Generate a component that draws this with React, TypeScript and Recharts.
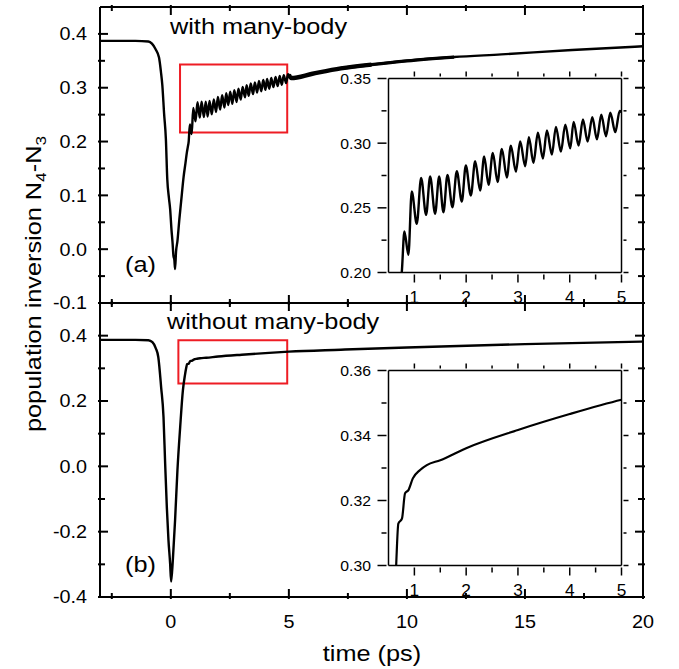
import React from "react";
import { LineChart, Line, XAxis, YAxis, ReferenceArea } from "recharts";

const FONT = '"Liberation Sans", Arial, Helvetica, sans-serif';

// ---- with many-body: pump dip, ringing, slow recovery ----
const dipWith = [
  { t: -3, v: 0.387 }, { t: -1.5, v: 0.387 }, { t: -0.95, v: 0.386 }, { t: -0.8, v: 0.382 },
  { t: -0.65, v: 0.372 }, { t: -0.5, v: 0.356 }, { t: -0.42, v: 0.33 }, { t: -0.36, v: 0.305 },
  { t: -0.285, v: 0.252 }, { t: -0.21, v: 0.205 }, { t: -0.15, v: 0.13 }, { t: -0.08, v: 0.095 },
  { t: -0.03, v: 0.075 }, { t: 0.03, v: 0.035 }, { t: 0.07, v: 0.014 }, { t: 0.11, v: -0.012 },
  { t: 0.15, v: -0.02 }, { t: 0.18, v: -0.037 }, { t: 0.22, v: -0.005 }, { t: 0.28, v: 0.015 },
  { t: 0.36, v: 0.055 }, { t: 0.44, v: 0.09 }, { t: 0.54, v: 0.134 }, { t: 0.62, v: 0.16 },
  { t: 0.68, v: 0.18 }, { t: 0.72, v: 0.19 }, { t: 0.756, v: 0.2 },
];

const ringWith = [
  { t: 0.807, v: 0.2317 }, { t: 0.884, v: 0.2137 }, { t: 0.949, v: 0.2626 }, { t: 1.046, v: 0.2376 },
  { t: 1.13, v: 0.2732 }, { t: 1.226, v: 0.2446 }, { t: 1.304, v: 0.2742 }, { t: 1.4, v: 0.2454 },
  { t: 1.478, v: 0.2742 }, { t: 1.561, v: 0.2466 }, { t: 1.639, v: 0.2755 }, { t: 1.735, v: 0.2505 },
  { t: 1.819, v: 0.2783 }, { t: 1.916, v: 0.2549 }, { t: 1.993, v: 0.2827 }, { t: 2.09, v: 0.2595 },
  { t: 2.174, v: 0.286 }, { t: 2.27, v: 0.2634 }, { t: 2.348, v: 0.2897 }, { t: 2.432, v: 0.2678 },
  { t: 2.515, v: 0.2925 }, { t: 2.606, v: 0.27 }, { t: 2.689, v: 0.2956 }, { t: 2.786, v: 0.2735 },
  { t: 2.863, v: 0.298 }, { t: 2.96, v: 0.278 }, { t: 3.043, v: 0.3013 }, { t: 3.14, v: 0.2822 },
  { t: 3.211, v: 0.3046 }, { t: 3.3, v: 0.2848 }, { t: 3.385, v: 0.308 }, { t: 3.482, v: 0.2881 },
  { t: 3.559, v: 0.3098 }, { t: 3.656, v: 0.2912 }, { t: 3.733, v: 0.3126 }, { t: 3.83, v: 0.2935 },
  { t: 3.914, v: 0.3143 }, { t: 4.01, v: 0.296 }, { t: 4.075, v: 0.3164 }, { t: 4.172, v: 0.2982 },
  { t: 4.255, v: 0.3183 }, { t: 4.346, v: 0.3013 }, { t: 4.436, v: 0.32 }, { t: 4.526, v: 0.303 },
  { t: 4.61, v: 0.322 }, { t: 4.7, v: 0.3054 }, { t: 4.784, v: 0.3235 }, { t: 4.88, v: 0.3085 },
  { t: 4.965, v: 0.325 }, { t: 5.0, v: 0.324 },
];

const tailWith = [
  { t: 5.1, v: 0.318 }, { t: 6, v: 0.326 }, { t: 7.2, v: 0.336 }, { t: 8.5, v: 0.343 },
  { t: 10, v: 0.35 }, { t: 12, v: 0.357 }, { t: 14, v: 0.362 }, { t: 17, v: 0.37 }, { t: 20, v: 0.377 },
];

// ---- without many-body ----
const dipWithout = [
  { t: -3, v: 0.387 }, { t: -1.5, v: 0.387 }, { t: -0.95, v: 0.386 }, { t: -0.78, v: 0.38 },
  { t: -0.64, v: 0.362 }, { t: -0.53, v: 0.334 }, { t: -0.41, v: 0.242 }, { t: -0.31, v: 0.151 },
  { t: -0.24, v: 0.008 }, { t: -0.17, v: -0.124 }, { t: -0.1, v: -0.226 }, { t: -0.03, v: -0.297 },
  { t: 0.013, v: -0.353 }, { t: 0.085, v: -0.287 }, { t: 0.18, v: -0.165 }, { t: 0.28, v: -0.012 },
  { t: 0.396, v: 0.12 }, { t: 0.51, v: 0.232 }, { t: 0.6, v: 0.28 }, { t: 0.648, v: 0.3 },
];

const riseWithout = [
  { t: 0.69, v: 0.3129 }, { t: 0.76, v: 0.3144 }, { t: 0.82, v: 0.3222 }, { t: 0.885, v: 0.3232 },
  { t: 0.97, v: 0.3268 }, { t: 1.11, v: 0.3294 }, { t: 1.24, v: 0.3309 }, { t: 1.5, v: 0.3324 },
  { t: 2.0, v: 0.3361 }, { t: 3.0, v: 0.3417 }, { t: 4.0, v: 0.3466 }, { t: 5.0, v: 0.351 },
];

const tailWithout = [
  { t: 7.2, v: 0.357 }, { t: 10, v: 0.364 }, { t: 15, v: 0.374 }, { t: 20, v: 0.382 },
];

const withMB = [...dipWith, ...ringWith, ...tailWith];
// the unresolved fast ringing after 5 ps shows as a thicker trace
const withBandNear = [ringWith[ringWith.length - 1], ...tailWith.filter((d) => d.t <= 8.5)];
const withBandFar = tailWith.filter((d) => d.t >= 7.2 && d.t <= 12);
const withoutMB = [...dipWithout, ...riseWithout, ...tailWithout];

// zoom boxes (drawn on the main panels)
const boxWith = { x1: 0.39, x2: 4.93, y1: 0.217, y2: 0.343 };
const boxWithout = { x1: 0.32, x2: 4.93, y1: 0.2535, y2: 0.386 };

// ticks
const timeMajor = [0, 5, 10, 15, 20];
const timeMinor = [-2.5, 2.5, 7.5, 12.5, 17.5];
const topMajor = [-0.1, 0, 0.1, 0.2, 0.3, 0.4];
const topMinor = [-0.05, 0.05, 0.15, 0.25, 0.35];
const botMajor = [-0.4, -0.2, 0, 0.2, 0.4];
const botMinor = [-0.3, -0.1, 0.1, 0.3];
const zoomTimeMajor = [1, 2, 3, 4, 5];
const zoomTimeMinor = [1.5, 2.5, 3.5, 4.5];
const zoomTopMajor = [0.2, 0.25, 0.3, 0.35];
const zoomTopMinor = [0.225, 0.275, 0.325];
const zoomBotMajor = [0.3, 0.32, 0.34, 0.36];
const zoomBotMinor = [0.31, 0.33, 0.35];

type Side = "left" | "right" | "top" | "bottom";
type TickOpts = {
  major: number;
  minor: number;
  inward: boolean;
  fmt?: (v: number) => string;
  size?: number;
  gap?: number;
  sx?: number;
  lw?: number;
};

const tickMaker = (side: Side, majors: number[], o: TickOpts) => (p: any) => {
  const v = p.payload.value;
  const isMajor = majors.some((m) => Math.abs(m - v) < 1e-9);
  const len = isMajor ? o.major : o.minor;
  const inSign = side === "left" || side === "top" ? 1 : -1;
  const s = o.inward ? inSign : -inSign;
  const horiz = side === "left" || side === "right";
  const x2 = horiz ? p.x + s * len : p.x;
  const y2 = horiz ? p.y : p.y + s * len;
  let label = null;
  if (isMajor && o.fmt) {
    const size = o.size || 18;
    const sx = o.sx || 1;
    if (side === "left") {
      label = (
        <text transform={`translate(${p.x - (o.gap || 10)},${p.y + size * 0.358}) scale(${sx},1)`}
          textAnchor="end" fontSize={size} fontFamily={FONT} fill="#000" stroke="none">{o.fmt(v)}</text>
      );
    } else if (side === "bottom") {
      label = (
        <text transform={`translate(${p.x},${p.y + (o.gap || 28)}) scale(${sx},1)`}
          textAnchor="middle" fontSize={size} fontFamily={FONT} fill="#000" stroke="none">{o.fmt(v)}</text>
      );
    }
  }
  return (
    <g>
      <line x1={p.x} y1={p.y} x2={x2} y2={y2} stroke="#000" strokeWidth={o.lw || 1.6} />
      {label}
    </g>
  );
};

const W = 679;
const H = 669;

// axes need a non-zero size to be drawn, so each gets 1px and the margins give it back
const axisCommon = { tickSize: 0, tickLine: false, interval: 0 as const, allowDataOverflow: true, stroke: "#000" };

type PanelProps = {
  top: number;
  bottom: number;
  left: number;
  right: number;
  xDomain: [number, number];
  yDomain: [number, number];
  xMajor: number[];
  xMinor: number[];
  yMajor: number[];
  yMinor: number[];
  xTick: { b: TickOpts; t: TickOpts };
  yTick: { l: TickOpts; r: TickOpts };
  frame: number;
  children?: React.ReactNode;
};

const Panel = (p: PanelProps) => (
  <div style={{ position: "absolute", left: 0, top: 0 }}>
    <LineChart width={W} height={H}
      margin={{ top: p.top - 1, bottom: H - p.bottom - 1, left: p.left - 1, right: W - p.right - 1 }}>
      <XAxis xAxisId="b" type="number" dataKey="t" domain={p.xDomain} ticks={[...p.xMajor, ...p.xMinor]}
        height={1} {...axisCommon} axisLine={{ stroke: "#000", strokeWidth: p.frame }}
        tick={tickMaker("bottom", p.xMajor, p.xTick.b)} />
      <XAxis xAxisId="t" orientation="top" type="number" dataKey="t" domain={p.xDomain} ticks={[...p.xMajor, ...p.xMinor]}
        height={1} {...axisCommon} axisLine={{ stroke: "#000", strokeWidth: p.frame }}
        tick={tickMaker("top", p.xMajor, p.xTick.t)} />
      <YAxis yAxisId="l" type="number" dataKey="v" domain={p.yDomain} ticks={[...p.yMajor, ...p.yMinor]}
        width={1} {...axisCommon} axisLine={{ stroke: "#000", strokeWidth: p.frame }}
        tick={tickMaker("left", p.yMajor, p.yTick.l)} />
      <YAxis yAxisId="r" orientation="right" type="number" dataKey="v" domain={p.yDomain} ticks={[...p.yMajor, ...p.yMinor]}
        width={1} {...axisCommon} axisLine={{ stroke: "#000", strokeWidth: p.frame }}
        tick={tickMaker("right", p.yMajor, p.yTick.r)} />
      {p.children}
    </LineChart>
  </div>
);

const mainX = {
  b: { major: 10, minor: 6, inward: true, fmt: (v: number) => String(v), size: 18, gap: 29, sx: 1.1, lw: 2 },
  t: { major: 10, minor: 6, inward: true, lw: 2 },
};
const mainXTopPanel = { b: { major: 10, minor: 6, inward: true, lw: 2 }, t: mainX.t };
const mainY = {
  l: { major: 10, minor: 7, inward: true, fmt: (v: number) => v.toFixed(1), size: 18, gap: 11, sx: 1.1, lw: 2 },
  r: { major: 10, minor: 7, inward: true, lw: 2 },
};
const zoomX = {
  b: { major: 8, minor: 5, inward: false, fmt: (v: number) => String(v), size: 16, gap: 28, sx: 1.08, lw: 1.5 },
  t: { major: 5, minor: 3, inward: false, lw: 1.5 },
};
const zoomY = {
  l: { major: 9, minor: 5, inward: false, fmt: (v: number) => v.toFixed(2), size: 15, gap: 15.5, sx: 1.05, lw: 1.5 },
  r: { major: 5, minor: 3, inward: false, lw: 1.5 },
};

const curve = (data: any[], width: number) => (
  <Line xAxisId="b" yAxisId="l" data={data} dataKey="v" type="monotone" stroke="#000"
    strokeWidth={width} strokeLinejoin="round" dot={false} activeDot={false} isAnimationActive={false} />
);

const box = (b: { x1: number; x2: number; y1: number; y2: number }) => (
  <ReferenceArea xAxisId="b" yAxisId="l" x1={b.x1} x2={b.x2} y1={b.y1} y2={b.y2}
    fill="none" fillOpacity={0} stroke="#ee1c24" strokeWidth={2} />
);

const txt = { fontFamily: FONT, fill: "#000" };

export default function App() {
  return (
    <div style={{ position: "absolute", left: 0, top: 0, width: W, height: H, background: "#fff" }}>
      {/* (a) with many-body */}
      <Panel top={7} bottom={303} left={100} right={643} xDomain={[-3, 20]} yDomain={[-0.1, 0.45]}
        xMajor={timeMajor} xMinor={timeMinor} yMajor={topMajor} yMinor={topMinor}
        xTick={mainXTopPanel} yTick={mainY} frame={2}>
        {box(boxWith)}
        {curve(withMB, 2.4)}
        {curve(withBandFar, 3.3)}
        {curve(withBandNear, 4.4)}
      </Panel>
      {/* (b) without many-body */}
      <Panel top={303} bottom={597} left={100} right={643} xDomain={[-3, 20]} yDomain={[-0.4, 0.5]}
        xMajor={timeMajor} xMinor={timeMinor} yMajor={botMajor} yMinor={botMinor}
        xTick={mainX} yTick={mainY} frame={2}>
        {box(boxWithout)}
        {curve(withoutMB, 2.4)}
      </Panel>
      {/* inset (a) */}
      <Panel top={78.5} bottom={272.5} left={388.5} right={621.5} xDomain={[0.5, 5]} yDomain={[0.2, 0.35]}
        xMajor={zoomTimeMajor} xMinor={zoomTimeMinor} yMajor={zoomTopMajor} yMinor={zoomTopMinor}
        xTick={zoomX} yTick={zoomY} frame={1.5}>
        {curve(withMB, 2.4)}
      </Panel>
      {/* inset (b) */}
      <Panel top={370.5} bottom={565.5} left={388.5} right={621.5} xDomain={[0.5, 5]} yDomain={[0.3, 0.36]}
        xMajor={zoomTimeMajor} xMinor={zoomTimeMinor} yMajor={zoomBotMajor} yMinor={zoomBotMinor}
        xTick={zoomX} yTick={zoomY} frame={1.5}>
        {curve(withoutMB, 2.2)}
      </Panel>
      <svg width={W} height={H} style={{ position: "absolute", left: 0, top: 0, pointerEvents: "none" }}>
        <text transform="translate(170,34) scale(1.15,1)" fontSize={22} {...txt}>with many-body</text>
        <text transform="translate(167,328.5) scale(1.15,1)" fontSize={22} {...txt}>without many-body</text>
        <text transform="translate(125,272) scale(1.15,1)" fontSize={22} {...txt}>(a)</text>
        <text transform="translate(125,572) scale(1.15,1)" fontSize={22} {...txt}>(b)</text>
        <text transform="translate(372,661) scale(1.15,1)" fontSize={22} textAnchor="middle" {...txt}>time (ps)</text>
        <text transform="translate(41,284) rotate(-90) scale(1.15,1)" fontSize={22} textAnchor="middle" {...txt}>
          population inversion N<tspan fontSize={15} dy={5}>4</tspan><tspan dy={-5}>-N</tspan><tspan fontSize={15} dy={5}>3</tspan>
        </text>
      </svg>
    </div>
  );
}
